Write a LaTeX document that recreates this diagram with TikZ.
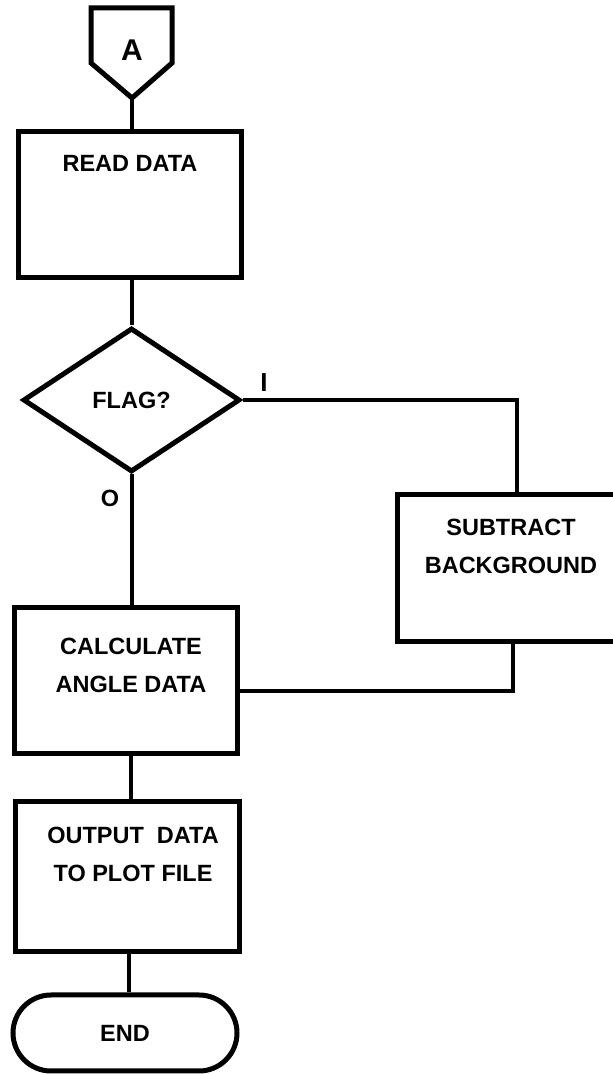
\documentclass[tikz,border=0pt]{standalone}
\usepackage{fontspec}
\setmainfont{Liberation Sans}
\usetikzlibrary{shapes.geometric,shapes.misc}
\begin{document}
\begin{tikzpicture}[x=1pt,y=1pt,
  outline/.style={draw, line width=5pt, line join=miter},
  flow/.style={line width=4pt},
  procbox/.style={outline, rectangle, minimum height=146pt, inner sep=0pt},
  lettering/.style={font=\bfseries\fontsize{23.5}{38}\selectfont, align=center, inner sep=0pt},
  decision/.style={outline, diamond, minimum width=217pt, minimum height=144pt, aspect=1.5, inner sep=0pt},
  terminal/.style={outline, rounded rectangle, minimum width=224pt, minimum height=76pt, inner sep=0pt},
]
\useasboundingbox (0,0) rectangle (613,1074);

% off-page connector A
\draw[outline] (91,1066) -- (172,1066) -- (172,1011) -- (132,976) -- (91,1011) -- cycle;
\node[lettering, font=\bfseries\fontsize{30}{36}\selectfont] (conA) at (132,1024) {A};
\coordinate (atip) at (132,976);

% process boxes
\node[procbox, minimum width=223pt] (read) at (129.5,869) {};
\node[lettering] (readtxt) at (130,911) {READ DATA};

\node[decision, lettering] (flag) at (131.5,674) {FLAG?};

\node[procbox, minimum width=228pt, minimum height=147pt] (sub) at (511,505.5) {};
\node[lettering] (subtxt) at (511,528) {SUBTRACT\\BACKGROUND};

\node[procbox, minimum width=223pt] (calc) at (125.5,393) {};
\node[lettering] (calctxt) at (131,409) {CALCULATE\\ANGLE DATA};

\node[procbox, minimum width=224pt, minimum height=150pt] (out) at (127,197) {};
\node[lettering] (outtxt) at (133,220) {OUTPUT\ \ DATA\\TO PLOT FILE};

\node[terminal, lettering] (end) at (125,41) {END};

% branch labels
\node[lettering, font=\bfseries\fontsize{26}{30}\selectfont] (lblone) at (264,691) {I};
\node[lettering] (lblzero) at (110,576) {O};

% connectors
\coordinate (jr) at (517,674);
\coordinate (jl) at (513,383);
\draw[flow] (atip) -- (atip |- read.north);
\draw[flow] (flag.north |- read.south) -- (flag.north);
\draw[flow] (flag.east) -- (jr) -- (jr |- sub.north);
\draw[flow] (flag.south) -- (flag.south |- calc.north);
\draw[flow] (jl |- sub.south) -- (jl) -- (calc.east |- jl);
\draw[flow] (131,0 |- calc.south) -- (131,0 |- out.north);
\draw[flow] (129,0 |- out.south) -- (129,0 |- end.north);
\end{tikzpicture}
\end{document}
